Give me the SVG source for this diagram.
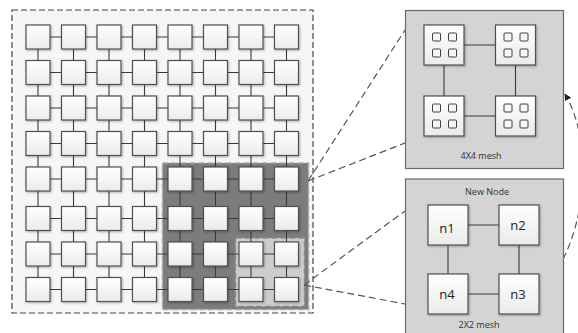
<svg xmlns="http://www.w3.org/2000/svg" width="578" height="333" viewBox="0 0 578 333">
<style>
.cell{fill:url(#g);stroke:#505050;stroke-width:1.2;filter:url(#sh)}
.big{fill:url(#g);stroke:#505050;stroke-width:1.2;filter:url(#sh)}
.sm{fill:#f6f6f6;stroke:#404040;stroke-width:1}
.ln{stroke:#3a3a3a;stroke-width:1.1;fill:none}
.zoom{stroke:#555;stroke-width:1.2;stroke-dasharray:7 4;fill:none}
.panel{fill:#d4d4d4;stroke:#6a6a6a;stroke-width:1.2}
.cap{font-family:"Open Sans","Noto Sans",sans-serif;font-size:9px;fill:#333;text-anchor:middle}
.nl{font-family:"Open Sans","Noto Sans",sans-serif;font-size:13px;fill:#222;text-anchor:middle}
</style>
<defs>
<linearGradient id="g" x1="0" y1="0" x2="0" y2="1"><stop offset="0" stop-color="#ffffff"/><stop offset="1" stop-color="#ebebeb"/></linearGradient>
<filter id="sh" x="-20%" y="-20%" width="150%" height="150%"><feDropShadow dx="1" dy="1" stdDeviation="0.8" flood-color="#000" flood-opacity="0.3"/></filter>
<marker id="ah" viewBox="0 0 10 10" refX="9" refY="5" markerWidth="7" markerHeight="7" orient="auto" markerUnits="userSpaceOnUse"><path d="M0,0 L10,5 L0,10 z" fill="#222"/></marker>
</defs>
<rect width="578" height="333" fill="#fff"/>
<g id="outer">
<rect x="12" y="10" width="301" height="303" fill="#f6f6f6" stroke="#444" stroke-width="1.2" stroke-dasharray="6 3"/>
<rect x="162.5" y="163" width="146" height="146.5" fill="#7c7c7c" stroke="#a8a8a8" stroke-width="1.5" stroke-dasharray="6 3"/>
<rect x="235.5" y="238" width="69" height="68.5" fill="#cdcdcd" stroke="#8a8a8a" stroke-width="1.5" stroke-dasharray="6 3"/>
</g>
<g id="connectors">
<line class="ln" x1="38" y1="37" x2="286.5" y2="37"/>
<line class="ln" x1="38" y1="72.5" x2="286.5" y2="72.5"/>
<line class="ln" x1="38" y1="108" x2="286.5" y2="108"/>
<line class="ln" x1="38" y1="143.5" x2="286.5" y2="143.5"/>
<line class="ln" x1="38" y1="179" x2="286.5" y2="179"/>
<line class="ln" x1="38" y1="218.5" x2="286.5" y2="218.5"/>
<line class="ln" x1="38" y1="254" x2="286.5" y2="254"/>
<line class="ln" x1="38" y1="289.5" x2="286.5" y2="289.5"/>
<line class="ln" x1="38" y1="37" x2="38" y2="289.5"/>
<line class="ln" x1="73.5" y1="37" x2="73.5" y2="289.5"/>
<line class="ln" x1="109" y1="37" x2="109" y2="289.5"/>
<line class="ln" x1="144.5" y1="37" x2="144.5" y2="289.5"/>
<line class="ln" x1="180" y1="37" x2="180" y2="289.5"/>
<line class="ln" x1="215.5" y1="37" x2="215.5" y2="289.5"/>
<line class="ln" x1="251" y1="37" x2="251" y2="289.5"/>
<line class="ln" x1="286.5" y1="37" x2="286.5" y2="289.5"/>
<path class="zoom" d="M308,181 L405,30"/>
<path class="zoom" d="M308,181 L405,143"/>
<path class="zoom" d="M304,285 L405,211"/>
<path class="zoom" d="M304,285 L405,304"/>
<path class="zoom" d="M563,259 C586,215 592,140 565,94" marker-end="url(#ah)"/>
</g>
<g id="grid">
<g id="r1c1"><rect class="cell" x="26" y="25" width="24" height="24"/></g>
<g id="r1c2"><rect class="cell" x="61.5" y="25" width="24" height="24"/></g>
<g id="r1c3"><rect class="cell" x="97" y="25" width="24" height="24"/></g>
<g id="r1c4"><rect class="cell" x="132.5" y="25" width="24" height="24"/></g>
<g id="r1c5"><rect class="cell" x="168" y="25" width="24" height="24"/></g>
<g id="r1c6"><rect class="cell" x="203.5" y="25" width="24" height="24"/></g>
<g id="r1c7"><rect class="cell" x="239" y="25" width="24" height="24"/></g>
<g id="r1c8"><rect class="cell" x="274.5" y="25" width="24" height="24"/></g>
<g id="r2c1"><rect class="cell" x="26" y="60.5" width="24" height="24"/></g>
<g id="r2c2"><rect class="cell" x="61.5" y="60.5" width="24" height="24"/></g>
<g id="r2c3"><rect class="cell" x="97" y="60.5" width="24" height="24"/></g>
<g id="r2c4"><rect class="cell" x="132.5" y="60.5" width="24" height="24"/></g>
<g id="r2c5"><rect class="cell" x="168" y="60.5" width="24" height="24"/></g>
<g id="r2c6"><rect class="cell" x="203.5" y="60.5" width="24" height="24"/></g>
<g id="r2c7"><rect class="cell" x="239" y="60.5" width="24" height="24"/></g>
<g id="r2c8"><rect class="cell" x="274.5" y="60.5" width="24" height="24"/></g>
<g id="r3c1"><rect class="cell" x="26" y="96" width="24" height="24"/></g>
<g id="r3c2"><rect class="cell" x="61.5" y="96" width="24" height="24"/></g>
<g id="r3c3"><rect class="cell" x="97" y="96" width="24" height="24"/></g>
<g id="r3c4"><rect class="cell" x="132.5" y="96" width="24" height="24"/></g>
<g id="r3c5"><rect class="cell" x="168" y="96" width="24" height="24"/></g>
<g id="r3c6"><rect class="cell" x="203.5" y="96" width="24" height="24"/></g>
<g id="r3c7"><rect class="cell" x="239" y="96" width="24" height="24"/></g>
<g id="r3c8"><rect class="cell" x="274.5" y="96" width="24" height="24"/></g>
<g id="r4c1"><rect class="cell" x="26" y="131.5" width="24" height="24"/></g>
<g id="r4c2"><rect class="cell" x="61.5" y="131.5" width="24" height="24"/></g>
<g id="r4c3"><rect class="cell" x="97" y="131.5" width="24" height="24"/></g>
<g id="r4c4"><rect class="cell" x="132.5" y="131.5" width="24" height="24"/></g>
<g id="r4c5"><rect class="cell" x="168" y="131.5" width="24" height="24"/></g>
<g id="r4c6"><rect class="cell" x="203.5" y="131.5" width="24" height="24"/></g>
<g id="r4c7"><rect class="cell" x="239" y="131.5" width="24" height="24"/></g>
<g id="r4c8"><rect class="cell" x="274.5" y="131.5" width="24" height="24"/></g>
<g id="r5c1"><rect class="cell" x="26" y="167" width="24" height="24"/></g>
<g id="r5c2"><rect class="cell" x="61.5" y="167" width="24" height="24"/></g>
<g id="r5c3"><rect class="cell" x="97" y="167" width="24" height="24"/></g>
<g id="r5c4"><rect class="cell" x="132.5" y="167" width="24" height="24"/></g>
<g id="r5c5"><rect class="cell" x="168" y="167" width="24" height="24"/></g>
<g id="r5c6"><rect class="cell" x="203.5" y="167" width="24" height="24"/></g>
<g id="r5c7"><rect class="cell" x="239" y="167" width="24" height="24"/></g>
<g id="r5c8"><rect class="cell" x="274.5" y="167" width="24" height="24"/></g>
<g id="r6c1"><rect class="cell" x="26" y="206.5" width="24" height="24"/></g>
<g id="r6c2"><rect class="cell" x="61.5" y="206.5" width="24" height="24"/></g>
<g id="r6c3"><rect class="cell" x="97" y="206.5" width="24" height="24"/></g>
<g id="r6c4"><rect class="cell" x="132.5" y="206.5" width="24" height="24"/></g>
<g id="r6c5"><rect class="cell" x="168" y="206.5" width="24" height="24"/></g>
<g id="r6c6"><rect class="cell" x="203.5" y="206.5" width="24" height="24"/></g>
<g id="r6c7"><rect class="cell" x="239" y="206.5" width="24" height="24"/></g>
<g id="r6c8"><rect class="cell" x="274.5" y="206.5" width="24" height="24"/></g>
<g id="r7c1"><rect class="cell" x="26" y="242" width="24" height="24"/></g>
<g id="r7c2"><rect class="cell" x="61.5" y="242" width="24" height="24"/></g>
<g id="r7c3"><rect class="cell" x="97" y="242" width="24" height="24"/></g>
<g id="r7c4"><rect class="cell" x="132.5" y="242" width="24" height="24"/></g>
<g id="r7c5"><rect class="cell" x="168" y="242" width="24" height="24"/></g>
<g id="r7c6"><rect class="cell" x="203.5" y="242" width="24" height="24"/></g>
<g id="r7c7"><rect class="cell" x="239" y="242" width="24" height="24"/></g>
<g id="r7c8"><rect class="cell" x="274.5" y="242" width="24" height="24"/></g>
<g id="r8c1"><rect class="cell" x="26" y="277.5" width="24" height="24"/></g>
<g id="r8c2"><rect class="cell" x="61.5" y="277.5" width="24" height="24"/></g>
<g id="r8c3"><rect class="cell" x="97" y="277.5" width="24" height="24"/></g>
<g id="r8c4"><rect class="cell" x="132.5" y="277.5" width="24" height="24"/></g>
<g id="r8c5"><rect class="cell" x="168" y="277.5" width="24" height="24"/></g>
<g id="r8c6"><rect class="cell" x="203.5" y="277.5" width="24" height="24"/></g>
<g id="r8c7"><rect class="cell" x="239" y="277.5" width="24" height="24"/></g>
<g id="r8c8"><rect class="cell" x="274.5" y="277.5" width="24" height="24"/></g>
</g>
<g id="mesh4x4">
<rect class="panel" x="405.5" y="10.5" width="158" height="158"/>
<g class="ln"><line x1="444" y1="45" x2="515.5" y2="45"/><line x1="444" y1="116" x2="515.5" y2="116"/><line x1="444" y1="45" x2="444" y2="116"/><line x1="515.5" y1="45" x2="515.5" y2="116"/></g>
<g id="q1"><rect class="big" x="424" y="25" width="40" height="40"/><rect class="sm" x="432.5" y="33" width="8" height="8" rx="1"/><rect class="sm" x="448.5" y="33" width="8" height="8" rx="1"/><rect class="sm" x="432.5" y="49" width="8" height="8" rx="1"/><rect class="sm" x="448.5" y="49" width="8" height="8" rx="1"/></g>
<g id="q2"><rect class="big" x="495.5" y="25" width="40" height="40"/><rect class="sm" x="504" y="33" width="8" height="8" rx="1"/><rect class="sm" x="520" y="33" width="8" height="8" rx="1"/><rect class="sm" x="504" y="49" width="8" height="8" rx="1"/><rect class="sm" x="520" y="49" width="8" height="8" rx="1"/></g>
<g id="q3"><rect class="big" x="424" y="96" width="40" height="40"/><rect class="sm" x="432.5" y="104" width="8" height="8" rx="1"/><rect class="sm" x="448.5" y="104" width="8" height="8" rx="1"/><rect class="sm" x="432.5" y="120" width="8" height="8" rx="1"/><rect class="sm" x="448.5" y="120" width="8" height="8" rx="1"/></g>
<g id="q4"><rect class="big" x="495.5" y="96" width="40" height="40"/><rect class="sm" x="504" y="104" width="8" height="8" rx="1"/><rect class="sm" x="520" y="104" width="8" height="8" rx="1"/><rect class="sm" x="504" y="120" width="8" height="8" rx="1"/><rect class="sm" x="520" y="120" width="8" height="8" rx="1"/></g>
<text class="cap" x="481" y="159">4X4 mesh</text>
</g>
<g id="mesh2x2">
<rect class="panel" x="405.5" y="179" width="158" height="170"/>
<text class="cap" x="487" y="195">New Node</text>
<g class="ln"><line x1="448" y1="225" x2="519" y2="225"/><line x1="448" y1="294" x2="519" y2="294"/><line x1="448" y1="225" x2="448" y2="294"/><line x1="519" y1="225" x2="519" y2="294"/></g>
<g id="n1"><rect class="big" x="428" y="205" width="40" height="40"/><text class="nl" x="447" y="233">n1</text></g>
<g id="n2"><rect class="big" x="499" y="205" width="40" height="40"/><text class="nl" x="518" y="230">n2</text></g>
<g id="n4"><rect class="big" x="428" y="274" width="40" height="40"/><text class="nl" x="447" y="299">n4</text></g>
<g id="n3"><rect class="big" x="499" y="274" width="40" height="40"/><text class="nl" x="518" y="299">n3</text></g>
<text class="cap" x="479" y="328">2X2 mesh</text>
</g>
</svg>
